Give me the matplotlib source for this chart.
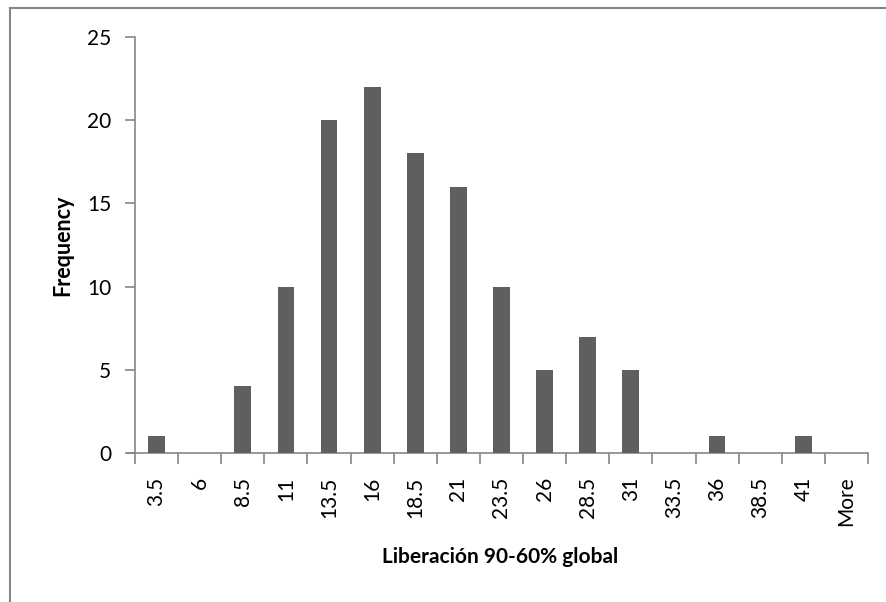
import matplotlib
matplotlib.use("Agg")
import matplotlib.pyplot as plt
from matplotlib.lines import Line2D

bins = ["3.5", "6", "8.5", "11", "13.5", "16", "18.5", "21", "23.5",
        "26", "28.5", "31", "33.5", "36", "38.5", "41", "More"]
frequency = [1, 0, 4, 10, 20, 22, 18, 16, 10, 5, 7, 5, 0, 1, 0, 1, 0]

plt.rcParams["font.family"] = ["Lato", "DejaVu Sans"]

W, H = 887, 602
fig = plt.figure(figsize=(W / 100, H / 100), dpi=100)
ax = fig.add_axes([135 / W, 1 - 453 / H, (868 - 135) / W, (453 - 37) / H])

axis_grey = "#868686"
x = list(range(len(bins)))
ax.bar(x, frequency, width=0.39, color="#5f5f5f", zorder=3)

ax.set_xlim(-0.5, len(bins) - 0.5)
ax.set_ylim(0, 25)
ax.set_yticks(range(0, 26, 5))
ax.set_xticks(x)
ax.set_xticklabels(bins, rotation=90, fontsize=15)
ax.tick_params(axis="y", labelsize=15, length=7, width=1.2, color=axis_grey, pad=10)
ax.tick_params(axis="x", length=0, pad=17)
# category-boundary tick marks
ax.set_xticks([i - 0.5 for i in range(len(bins) + 1)], minor=True)
ax.tick_params(axis="x", which="minor", length=8, width=1.2, color=axis_grey)

for side in ("top", "right"):
    ax.spines[side].set_visible(False)
for side in ("left", "bottom"):
    ax.spines[side].set_color(axis_grey)
    ax.spines[side].set_linewidth(1.2)
# x axis line extends slightly left of the y axis
fig.add_artist(Line2D([128 / W, 135 / W], [1 - 453 / H] * 2, color=axis_grey, lw=1.2))

ax.set_ylabel("Frequency", fontsize=15.5, fontweight="bold", labelpad=10)
fig.text(500 / W, 1 - 557 / H, "Liberación 90-60% global", fontsize=15,
         fontweight="bold", ha="center", va="center")

# chart area border
fig.add_artist(Line2D([10.5 / W, 10.5 / W], [0, 1 - 7.5 / H], color=axis_grey, lw=1.5))
fig.add_artist(Line2D([10.5 / W, 1], [1 - 7.5 / H] * 2, color=axis_grey, lw=1.5))

fig.savefig("out.png", dpi=100)
